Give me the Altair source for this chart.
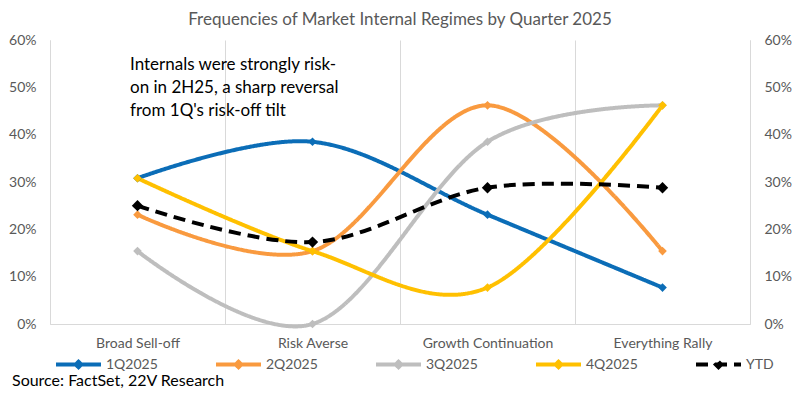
import altair as alt
import pandas as pd

categories = ["Broad Sell-off", "Risk Averse", "Growth Continuation", "Everything Rally"]
series_names = ["1Q2025", "2Q2025", "3Q2025", "4Q2025", "YTD"]
q1 = [0.308, 0.385, 0.231, 0.077]
q2 = [0.231, 0.154, 0.462, 0.154]
q3 = [0.154, 0.0, 0.385, 0.462]
q4 = [0.308, 0.154, 0.077, 0.462]
ytd = [0.250, 0.173, 0.288, 0.288]
y_ticks = [0.0, 0.1, 0.2, 0.3, 0.4, 0.5, 0.6]
colors = ["#0B6DB7", "#F99A3F", "#BEBEBE", "#FFC000", "#000000"]
dashes = [[1, 0], [1, 0], [1, 0], [1, 0], [12, 7]]
title_text = "Frequencies of Market Internal Regimes by Quarter 2025"
annotation_lines = ["Internals were strongly risk-", "on in 2H25, a sharp reversal", "from 1Q's risk-off tilt"]
source_text = "Source: FactSet, 22V Research"

values_by_series = [q1, q2, q3, q4, ytd]
rows = []
for name, vals in zip(series_names, values_by_series):
    for cat, v in zip(categories, vals):
        rows.append({"series": name, "category": cat, "value": v})
df = pd.DataFrame(rows)

FONT = "Lato"
GRID = "#D9D9D9"
LABEL = "#595959"

x_enc = alt.X(
    "category:N",
    sort=categories,
    scale=alt.Scale(type="band", domain=categories, paddingInner=0, paddingOuter=0),
    axis=alt.Axis(
        title=None, grid=True, gridColor=GRID, gridWidth=1, tickBand="extent",
        ticks=False, tickSize=0, domainColor=GRID, labelFontSize=14,
        labelColor=LABEL, labelPadding=12, labelAngle=0, labelFont=FONT,
    ),
)
y_scale = alt.Scale(domain=[0, 0.6], nice=False)


def y_axis(orient):
    return alt.Axis(
        orient=orient, title=None, format=".0%", values=y_ticks, grid=False,
        ticks=False, tickSize=0, domain=True, domainColor=GRID,
        labelPadding=14, labelFontSize=14, labelColor=LABEL, labelFont=FONT,
    )


legend = alt.Legend(
    title=None, orient="none", legendX=4, legendY=300, direction="horizontal",
    columns=5, gridAlign="none", symbolType="M-1,0H1M0,-0.12L0.12,0L0,0.12L-0.12,0Z",
    symbolSize=2025, symbolStrokeWidth=4, labelFontSize=14, labelColor=LABEL,
    labelFont=FONT, columnPadding=50, labelOffset=3,
)

color_scale = alt.Scale(domain=series_names, range=colors)

lines = alt.Chart(df).mark_line(interpolate="cardinal", tension=0, strokeWidth=4).encode(
    x=x_enc,
    y=alt.Y("value:Q", scale=y_scale, axis=y_axis("left")),
    color=alt.Color("series:N", scale=color_scale, legend=legend),
    strokeDash=alt.StrokeDash("series:N", scale=alt.Scale(domain=series_names, range=dashes), legend=legend),
)

q_points = alt.Chart(df).transform_filter(alt.datum.series != "YTD").mark_point(
    shape="diamond", filled=True, opacity=1, strokeWidth=0, size=75
).encode(
    x=x_enc,
    y=alt.Y("value:Q", scale=y_scale, axis=y_axis("right")),
    fill=alt.Fill("series:N", scale=color_scale, legend=None),
)

ytd_points = alt.Chart(df).transform_filter(alt.datum.series == "YTD").mark_point(
    shape="diamond", filled=True, opacity=1, strokeWidth=0, size=130
).encode(
    x=x_enc,
    y=alt.Y("value:Q", scale=y_scale, axis=None),
    fill=alt.Fill("series:N", scale=color_scale, legend=None),
)

annot = alt.Chart(pd.DataFrame({"a": [0]})).mark_text(
    text=annotation_lines, align="left", baseline="top", fontSize=17,
    lineHeight=23, font=FONT, color="#000000",
).encode(x=alt.value(80), y=alt.value(17))

source = alt.Chart(pd.DataFrame({"a": [0]})).mark_text(
    text=source_text, align="left", baseline="middle", fontSize=16,
    font=FONT, color="#000000",
).encode(x=alt.value(-38), y=alt.value(341))

chart = alt.layer(lines, q_points, ytd_points, annot, source).resolve_axis(y="independent").properties(
    width=700,
    height=284,
    autosize=alt.AutoSizeParams(type="none"),
    padding={"left": 42, "top": 32, "right": 43, "bottom": 66},
    title=alt.Title(title_text, fontSize=17, color=LABEL, fontWeight="normal",
                    font=FONT, anchor="middle", offset=4),
).configure_view(stroke=None)

chart.save("out.html", embed_options={"renderer": "svg", "actions": False})
